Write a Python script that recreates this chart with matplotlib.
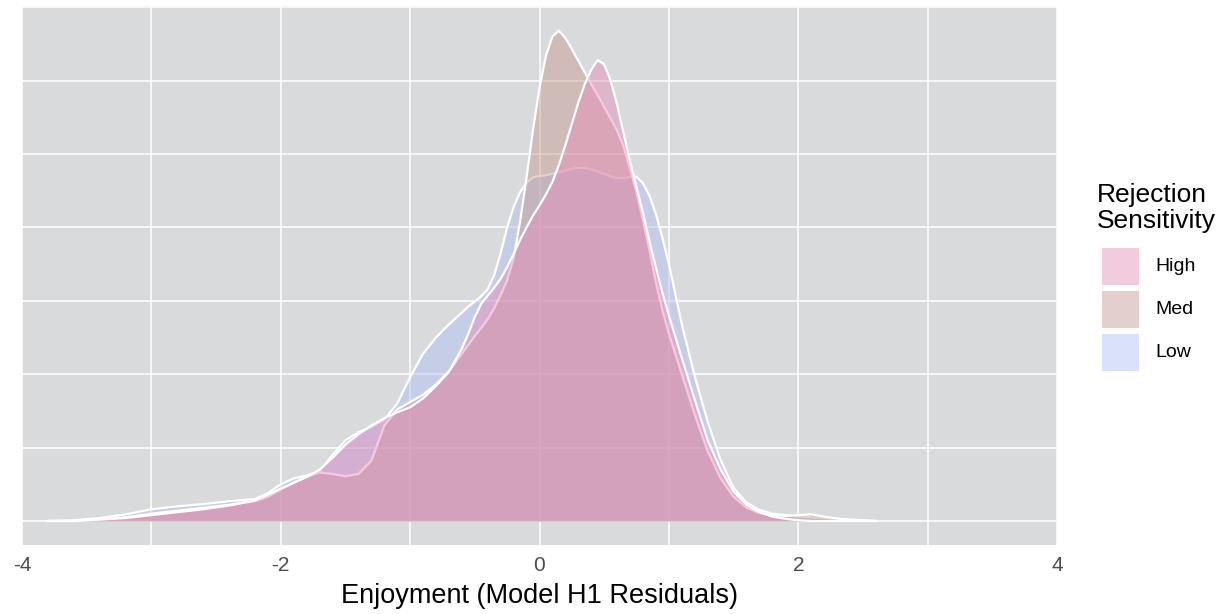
import numpy as np
import matplotlib
matplotlib.use("Agg")
import matplotlib.pyplot as plt
from matplotlib.patches import Rectangle

plt.rcParams["font.family"] = ["Liberation Sans", "DejaVu Sans"]

# density curves (one gridline = 0.1)
x_vals = [-3.8, -3.6, -3.4, -3.2, -3.0, -2.8, -2.6, -2.4, -2.2,
          -2.1, -2.0, -1.9, -1.8, -1.7, -1.6, -1.5, -1.4, -1.3, -1.2,
          -1.1, -1.0, -0.9, -0.8, -0.7, -0.6,
          -0.55, -0.5, -0.45, -0.4, -0.35, -0.3, -0.25, -0.2, -0.15, -0.1,
          -0.05, 0.0, 0.05, 0.1, 0.15, 0.2, 0.25, 0.3, 0.35, 0.4,
          0.45, 0.5, 0.55, 0.6, 0.65, 0.7, 0.75, 0.8, 0.85, 0.9,
          0.95, 1.0, 1.1, 1.2, 1.3, 1.4, 1.5, 1.6, 1.7, 1.8,
          1.9, 2.0, 2.1, 2.2, 2.4, 2.6]

low = [0.000, 0.001, 0.004, 0.009, 0.016, 0.020, 0.023, 0.027, 0.030,
       0.038, 0.050, 0.058, 0.062, 0.068, 0.090, 0.110, 0.121, 0.128, 0.138,
       0.160, 0.196, 0.228, 0.250, 0.268, 0.284,
       0.292, 0.299, 0.306, 0.316, 0.335, 0.365, 0.400, 0.428, 0.448, 0.461,
       0.468, 0.470, 0.471, 0.473, 0.475, 0.477, 0.480, 0.481, 0.481, 0.479,
       0.476, 0.473, 0.469, 0.467, 0.467, 0.469, 0.469, 0.460, 0.443, 0.418,
       0.386, 0.350, 0.268, 0.197, 0.135, 0.083, 0.045, 0.025, 0.015, 0.010,
       0.008, 0.006, 0.005, 0.004, 0.002, 0.000]

med = [0.000, 0.000, 0.002, 0.005, 0.010, 0.014, 0.018, 0.022, 0.027,
       0.033, 0.043, 0.052, 0.060, 0.066, 0.064, 0.061, 0.064, 0.082, 0.130,
       0.152, 0.162, 0.172, 0.186, 0.204, 0.228,
       0.240, 0.252, 0.263, 0.275, 0.290, 0.308, 0.328, 0.358, 0.408, 0.468,
       0.533, 0.590, 0.634, 0.660, 0.668, 0.658, 0.643, 0.627, 0.611, 0.595,
       0.580, 0.564, 0.548, 0.532, 0.510, 0.480, 0.447, 0.410, 0.368, 0.325,
       0.287, 0.255, 0.200, 0.145, 0.095, 0.058, 0.033, 0.018, 0.011, 0.008,
       0.007, 0.008, 0.009, 0.006, 0.001, 0.000]

high = [0.000, 0.000, 0.002, 0.004, 0.008, 0.012, 0.016, 0.021, 0.028,
        0.036, 0.044, 0.052, 0.060, 0.070, 0.086, 0.104, 0.118, 0.130, 0.140,
        0.148, 0.155, 0.167, 0.184, 0.203, 0.235,
        0.255, 0.278, 0.296, 0.307, 0.318, 0.330, 0.346, 0.364, 0.383, 0.400,
        0.416, 0.430, 0.445, 0.462, 0.485, 0.512, 0.541, 0.570, 0.595, 0.615,
        0.628, 0.622, 0.600, 0.567, 0.528, 0.490, 0.455, 0.420, 0.381, 0.345,
        0.311, 0.280, 0.222, 0.165, 0.110, 0.070, 0.040, 0.022, 0.012, 0.006,
        0.003, 0.001, 0.000, 0.000, 0.000, 0.000]

groups = ["High", "Med", "Low"]
fills = {"High": "#e68cb9", "Med": "#c3968c", "Low": "#afbef5"}
series = {"High": high, "Med": med, "Low": low}
alpha = 0.45

x_ticks = [-4, -2, 0, 2, 4]
x_tick_labels = ["-4", "-2", "0", "2", "4"]

W, H = 1230, 614
fig = plt.figure(figsize=(W / 100, H / 100), dpi=100)
ax = fig.add_axes([22 / W, 1 - 545 / H, (1057 - 22) / W, (545 - 6) / H])
ax.set_facecolor("#d9dadb")

# grid
for gx in range(-4, 5):
    ax.axvline(gx, color="white", lw=1.1, zorder=0.5)
for gy in np.arange(0, 0.71, 0.1):
    ax.axhline(gy, color="white", lw=1.1, zorder=0.5)

# Low first so High ends on top
for g in ["Low", "Med", "High"]:
    ax.fill_between(x_vals, series[g], 0, color=fills[g], alpha=alpha, lw=0, zorder=1)
    ax.plot(x_vals, series[g], color="white", lw=1.6, zorder=1, solid_joinstyle="round")

ax.set_xlim(-4, 4)
ax.set_ylim(-0.0327, 0.7016)
ax.set_xticks(x_ticks)
ax.set_xticklabels(x_tick_labels, color="#4d4d4d", fontsize=15)
ax.set_yticks([])
ax.tick_params(axis="x", length=0, pad=8)
for s in ax.spines.values():
    s.set_visible(False)
ax.set_xlabel("Enjoyment (Model H1 Residuals)", fontsize=19.5, color="black", labelpad=6)

# legend drawn by hand, in figure pixels
def fx(px):
    return px / W

def fy(py):
    return 1 - py / H

fig.text(fx(1097), fy(202), "Rejection", fontsize=19, va="baseline", ha="left")
fig.text(fx(1097), fy(228), "Sensitivity", fontsize=19, va="baseline", ha="left")
for i, g in enumerate(groups):
    top = 248 + 43 * i
    fig.patches.append(Rectangle((fx(1102), fy(top + 37)), 37 / W, 37 / H,
                                 transform=fig.transFigure, facecolor=fills[g],
                                 alpha=alpha, edgecolor="none"))
    fig.text(fx(1155), fy(top + 18.5), g, fontsize=14, va="center", ha="left")

fig.savefig("out.png", dpi=100)
